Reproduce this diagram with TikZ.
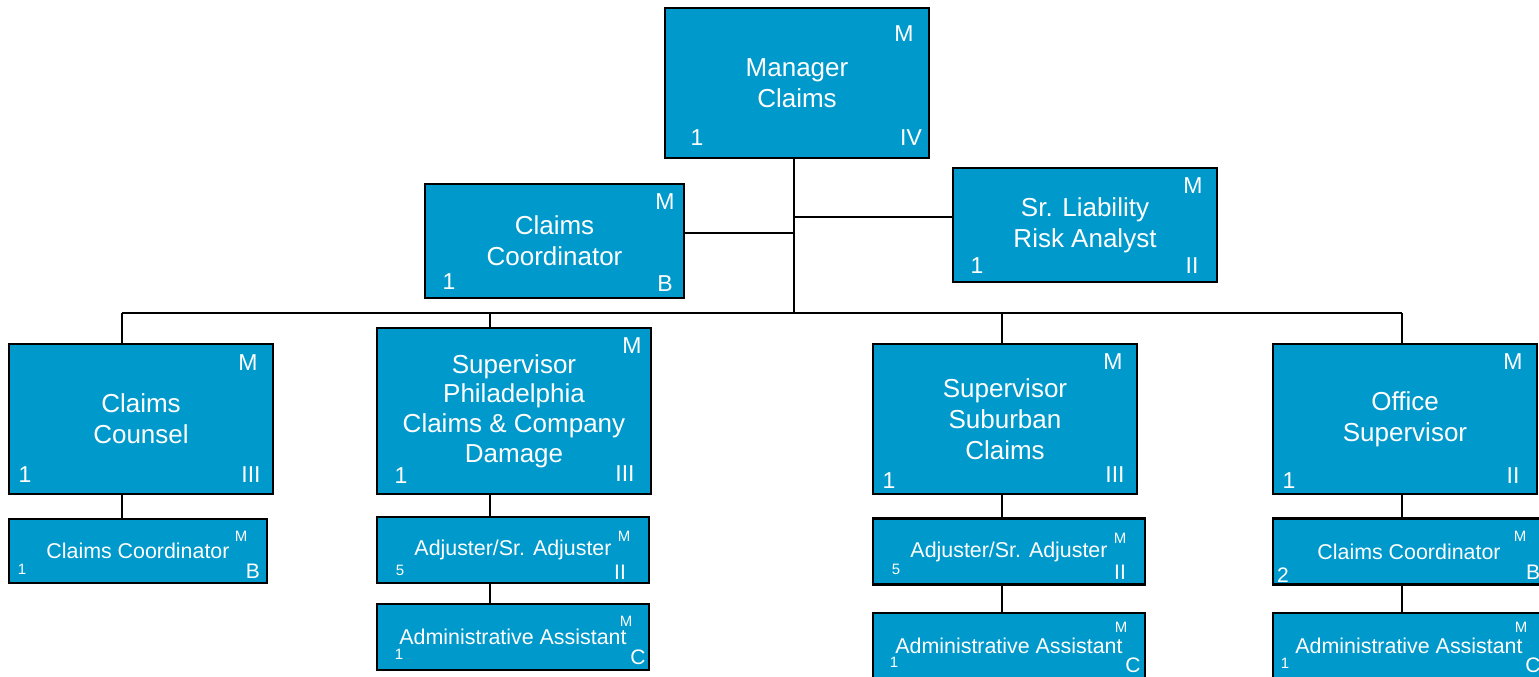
\documentclass[tikz,border=0pt]{standalone}
\usepackage{fontspec}
\setmainfont{Liberation Sans}
\definecolor{claimblue}{HTML}{0099CC}
\tikzset{
  post/.style={draw, line width=1.3pt, fill=claimblue, text=white, align=center, inner sep=0pt, minimum width=132pt, minimum height=75pt, font=\fontsize{13}{15.5}\selectfont},
  subpost/.style={post, minimum width=136pt, minimum height=33pt, font=\fontsize{10.7}{12}\selectfont},
  tag/.style={text=white, inner sep=0pt, font=\fontsize{11.5}{12}\selectfont},
  minitag/.style={tag, font=\fontsize{7.5}{8}\selectfont},
  midtag/.style={tag, font=\fontsize{10.5}{11}\selectfont},
  link/.style={line width=1pt}
}
\begin{document}
\begin{tikzpicture}[x=0.5pt,y=-0.5pt]
\useasboundingbox (0,0) rectangle (1539,676);
\clip (0,0) rectangle (1539,676);
% top of the chart
\node[post] (mgr) at (797,83) {Manager\\Claims};
\node[post, minimum width=129.5pt, minimum height=57pt] (cc) at (554.5,241) {Claims\\Coordinator};
\node[post, minimum height=57pt] (risk) at (1085,225) {Sr. Liability\\Risk Analyst};
% supervisors
\node[post] (counsel) at (141,419) {Claims\\Counsel};
\node[post, minimum width=137pt, minimum height=83pt, font=\fontsize{13}{14.8}\selectfont] (phil) at (514,411) {Supervisor\\Philadelphia\\Claims \& Company\\Damage};
\node[post] (sub) at (1005,419) {Supervisor\\Suburban\\Claims};
\node[post] (office) at (1405,419) {Office\\Supervisor};
% staff boxes
\node[subpost, minimum width=129pt, minimum height=32pt] (counselcc) at (138,551) {Claims Coordinator};
\node[subpost] (philadj) at (513,550) {Adjuster/Sr. Adjuster};
\node[subpost] (philadm) at (513,637) {Administrative Assistant};
\node[subpost] (subadj) at (1009,551.5) {Adjuster/Sr. Adjuster};
\node[subpost] (subadm) at (1009,646) {Administrative Assistant};
\node[subpost] (officecc) at (1409,551.5) {Claims Coordinator};
\node[subpost] (officeadm) at (1409,646) {Administrative Assistant};
% corner tags
\node[tag] (mgr-m) at (904,34) {M};
\node[tag] (mgr-n) at (697,138) {1};
\node[tag] (mgr-g) at (911,138) {IV};
\node[tag] (cc-m) at (665,202) {M};
\node[tag] (cc-n) at (449,282) {1};
\node[tag] (cc-g) at (665,284) {B};
\node[tag] (risk-m) at (1193,186) {M};
\node[tag] (risk-n) at (977,266) {1};
\node[tag] (risk-g) at (1192,266) {II};
\node[tag] (counsel-m) at (248,363) {M};
\node[tag] (counsel-n) at (25,475) {1};
\node[tag] (counsel-g) at (251,475) {III};
\node[tag] (phil-m) at (632,346) {M};
\node[tag] (phil-n) at (401,476) {1};
\node[tag] (phil-g) at (625,474) {III};
\node[tag] (sub-m) at (1113,362) {M};
\node[tag] (sub-n) at (889,481) {1};
\node[tag] (sub-g) at (1115,475) {III};
\node[tag] (office-m) at (1513,362) {M};
\node[tag] (office-n) at (1289,481) {1};
\node[tag] (office-g) at (1513,476) {II};
\node[minitag] (counselcc-m) at (241,536) {M};
\node[minitag] (counselcc-n) at (22,569) {1};
\node[midtag] (counselcc-g) at (253,571) {B};
\node[minitag] (philadj-m) at (624,536) {M};
\node[minitag] (philadj-n) at (400,570) {5};
\node[midtag] (philadj-g) at (620,572) {II};
\node[minitag] (philadm-m) at (626,621) {M};
\node[minitag] (philadm-n) at (399,654) {1};
\node[midtag] (philadm-g) at (638,657) {C};
\node[minitag] (subadj-m) at (1120,538) {M};
\node[minitag] (subadj-n) at (896,569) {5};
\node[midtag] (subadj-g) at (1120,572) {II};
\node[minitag] (subadm-m) at (1121,627) {M};
\node[minitag] (subadm-n) at (894,662) {1};
\node[midtag] (subadm-g) at (1133,665) {C};
\node[minitag] (officecc-m) at (1520,536) {M};
\node[midtag] (officecc-n) at (1283,575) {2};
\node[midtag] (officecc-g) at (1533,572) {B};
\node[minitag] (officeadm-m) at (1521,627) {M};
\node[minitag] (officeadm-n) at (1285,663) {1};
\node[midtag] (officeadm-g) at (1533,665) {C};
% connectors
\coordinate (trunk) at (794,313);
\coordinate (d1) at (122,313);
\coordinate (d2) at (490,313);
\coordinate (d3) at (1002,313);
\coordinate (d4) at (1402,313);
\draw[link] (mgr.south -| trunk) -- (trunk);
\draw[link] ([yshift=4pt]cc.east) -- ([yshift=4pt]cc.east -| trunk);
\draw[link] ([yshift=4pt]risk.west) -- ([yshift=4pt]risk.west -| trunk);
\draw[link] (d1) -- (d4);
\draw[link] (d1) -- (d1 |- counsel.north);
\draw[link] (d2) -- (d2 |- phil.north);
\draw[link] (d3) -- (d3 |- sub.north);
\draw[link] (d4) -- (d4 |- office.north);
\draw[link] (d1 |- counsel.south) -- (d1 |- counselcc.north);
\draw[link] (d2 |- phil.south) -- (d2 |- philadj.north);
\draw[link] (d2 |- philadj.south) -- (d2 |- philadm.north);
\draw[link] (d3 |- sub.south) -- (d3 |- subadj.north);
\draw[link] (d3 |- subadj.south) -- (d3 |- subadm.north);
\draw[link] (d4 |- office.south) -- (d4 |- officecc.north);
\draw[link] (d4 |- officecc.south) -- (d4 |- officeadm.north);
\end{tikzpicture}
\end{document}
